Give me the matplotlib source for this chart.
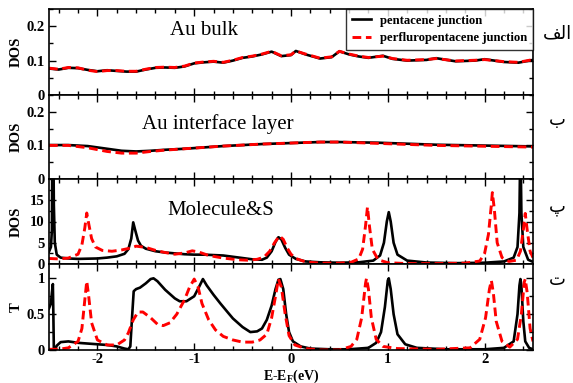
import matplotlib
matplotlib.use("Agg")
import matplotlib.pyplot as plt
from matplotlib.ticker import MultipleLocator

# ---------------- data ----------------
bulk_x = [-2.50, -2.40, -2.30, -2.20, -2.10, -2.00, -1.90, -1.80, -1.70, -1.60, -1.50, -1.40,
          -1.30, -1.20, -1.10, -1.00, -0.90, -0.80, -0.70, -0.60, -0.50, -0.40, -0.30, -0.20,
          -0.10, 0.00, 0.05, 0.15, 0.30, 0.42, 0.50, 0.60, 0.70, 0.80, 0.95, 1.05, 1.20,
          1.40, 1.50, 1.70, 1.90, 2.00, 2.20, 2.35, 2.50]
bulk_black = [0.077, 0.074, 0.079, 0.078, 0.073, 0.069, 0.072, 0.070, 0.068, 0.068, 0.074, 0.079,
              0.080, 0.079, 0.083, 0.092, 0.095, 0.097, 0.094, 0.100, 0.108, 0.112, 0.118, 0.126,
              0.113, 0.116, 0.128, 0.118, 0.106, 0.110, 0.127, 0.118, 0.112, 0.108, 0.114, 0.105, 0.100,
              0.102, 0.107, 0.098, 0.100, 0.104, 0.096, 0.094, 0.102]
bulk_red = [0.078, 0.075, 0.080, 0.079, 0.072, 0.068, 0.071, 0.071, 0.069, 0.069, 0.075, 0.080,
            0.081, 0.080, 0.084, 0.093, 0.096, 0.098, 0.095, 0.101, 0.109, 0.113, 0.119, 0.127,
            0.114, 0.117, 0.128, 0.119, 0.107, 0.111, 0.127, 0.119, 0.113, 0.109, 0.113, 0.106, 0.101,
            0.103, 0.106, 0.099, 0.101, 0.103, 0.097, 0.095, 0.103]

inter_x = [-2.50, -2.30, -2.10, -1.90, -1.75, -1.60, -1.45, -1.30, -1.10, -0.90, -0.70, -0.50,
           -0.30, -0.10, 0.10, 0.30, 0.50, 0.70, 0.90, 1.10, 1.30, 1.50, 1.70, 1.90, 2.10, 2.30, 2.50]
inter_black = [0.101, 0.101, 0.098, 0.090, 0.084, 0.082, 0.084, 0.087, 0.090, 0.094, 0.098, 0.101,
               0.104, 0.106, 0.108, 0.110, 0.110, 0.109, 0.108, 0.106, 0.104, 0.102, 0.101, 0.100,
               0.099, 0.098, 0.097]
inter_red = [0.100, 0.100, 0.093, 0.082, 0.077, 0.077, 0.082, 0.086, 0.090, 0.094, 0.098, 0.101,
             0.104, 0.106, 0.108, 0.110, 0.110, 0.108, 0.106, 0.104, 0.102, 0.100, 0.099, 0.098,
             0.097, 0.096, 0.095]

mol_bx = [-2.50, -2.48, -2.47, -2.465, -2.455, -2.45, -2.44, -2.42, -2.38, -2.30, -2.20, -2.00,
          -1.90, -1.80, -1.72, -1.68, -1.65, -1.63, -1.61, -1.58, -1.55, -1.50, -1.40, -1.30,
          -1.20, -1.10, -1.00, -0.90, -0.80, -0.70, -0.60, -0.50, -0.40, -0.30, -0.25, -0.20,
          -0.16, -0.13, -0.10, -0.06, -0.02, 0.05, 0.15, 0.30, 0.50, 0.70, 0.85, 0.92, 0.96,
          0.99, 1.01, 1.03, 1.06, 1.10, 1.20, 1.40, 1.70, 2.00, 2.20, 2.30, 2.34, 2.36, 2.37,
          2.38, 2.40, 2.45, 2.50]
mol_by = [2.9, 4.0, 8.0, 30.0, 30.0, 14.0, 5.0, 2.2, 1.5, 1.3, 1.2, 1.3,
          1.5, 1.8, 2.4, 3.5, 6.0, 9.8, 8.0, 5.5, 4.3, 3.6, 3.0, 2.7,
          2.5, 2.3, 2.2, 2.2, 2.1, 2.0, 1.7, 1.4, 1.1, 1.0, 1.5, 3.0,
          5.2, 6.3, 5.8, 3.8, 2.2, 1.2, 0.6, 0.4, 0.3, 0.4, 0.8, 2.0, 5.0,
          10.0, 12.2, 10.0, 5.0, 2.2, 0.8, 0.35, 0.2, 0.3, 0.6, 1.5, 4.0, 12.0, 30.0,
          12.0, 4.0, 1.0, 0.5]
mol_rx = [-2.50, -2.40, -2.30, -2.20, -2.16, -2.13, -2.11, -2.09, -2.06, -2.02, -1.95, -1.85,
          -1.75, -1.65, -1.60, -1.50, -1.40, -1.30, -1.20, -1.10, -1.02, -0.95, -0.85, -0.70,
          -0.55, -0.45, -0.35, -0.28, -0.22, -0.17, -0.12, -0.08, -0.04, 0.00, 0.05, 0.15,
          0.30, 0.50, 0.62, 0.70, 0.74, 0.77, 0.79, 0.81, 0.84, 0.90, 1.00, 1.20, 1.50, 1.80,
          1.95, 2.00, 2.04, 2.07, 2.08, 2.10, 2.13, 2.18, 2.25, 2.33, 2.37, 2.40, 2.42, 2.44,
          2.47, 2.50]
mol_ry = [1.3, 1.2, 1.4, 2.3, 4.5, 8.5, 12.0, 9.5, 6.0, 4.0, 3.2, 3.0,
          3.3, 3.8, 4.2, 3.9, 3.2, 2.7, 2.3, 2.6, 3.1, 2.8, 2.0, 1.4,
          1.0, 0.9, 1.1, 1.6, 3.0, 5.0, 6.6, 5.8, 3.8, 2.3, 1.3, 0.5,
          0.2, 0.2, 0.4, 1.2, 3.5, 9.0, 13.4, 9.0, 3.5, 1.0, 0.3, 0.1, 0.1, 0.2,
          0.7, 2.5, 7.0, 14.0, 16.8, 13.0, 5.0, 1.5, 0.6, 0.9, 3.0, 8.0, 11.9, 8.0,
          3.0, 1.5]

t_bx = [-2.50, -2.48, -2.47, -2.46, -2.455, -2.45, -2.44, -2.42, -2.38, -2.30, -2.20, -2.10,
        -2.00, -1.90, -1.80, -1.72, -1.68, -1.66, -1.64, -1.625, -1.60, -1.56, -1.50, -1.45,
        -1.42, -1.38, -1.30, -1.20, -1.15, -1.08, -1.00, -0.95, -0.91, -0.87, -0.80, -0.73,
        -0.65, -0.60, -0.50, -0.42, -0.35, -0.30, -0.25, -0.20, -0.16, -0.13, -0.11, -0.08,
        -0.05, -0.02, 0.02, 0.10, 0.20, 0.40, 0.60, 0.80, 0.88, 0.93, 0.97, 1.00, 1.01, 1.03,
        1.06, 1.10, 1.18, 1.30, 1.60, 2.00, 2.20, 2.30, 2.34, 2.36, 2.37, 2.38, 2.40, 2.42,
        2.46, 2.50]
t_by = [0.58, 0.65, 0.80, 0.92, 0.50, 0.02, 0.00, 0.06, 0.11, 0.12, 0.10, 0.09,
        0.08, 0.07, 0.05, 0.02, 0.01, 0.05, 0.50, 0.82, 0.85, 0.87, 0.93, 0.99,
        1.00, 0.96, 0.84, 0.72, 0.68, 0.68, 0.75, 0.88, 0.99, 0.90, 0.77, 0.65,
        0.52, 0.44, 0.32, 0.25, 0.26, 0.30, 0.42, 0.62, 0.85, 0.98, 0.99, 0.85,
        0.50, 0.25, 0.12, 0.05, 0.02, 0.01, 0.01, 0.03, 0.10, 0.25, 0.60, 0.97, 1.00, 0.85,
        0.50, 0.22, 0.08, 0.03, 0.01, 0.01, 0.03, 0.12, 0.50, 0.90, 0.99, 0.90, 0.40, 0.12,
        0.03, 0.01]
t_rx = [-2.50, -2.40, -2.30, -2.20, -2.16, -2.13, -2.11, -2.09, -2.06, -2.00, -1.90, -1.80,
        -1.72, -1.68, -1.63, -1.58, -1.53, -1.45, -1.38, -1.32, -1.25, -1.18, -1.10, -1.05,
        -1.00, -0.96, -0.92, -0.85, -0.78, -0.70, -0.60, -0.50, -0.40, -0.32, -0.25, -0.20,
        -0.16, -0.13, -0.10, -0.06, -0.02, 0.04, 0.15, 0.30, 0.50, 0.62, 0.68, 0.73, 0.77,
        0.78, 0.80, 0.83, 0.88, 0.95, 1.10, 1.50, 1.85, 1.95, 2.01, 2.05, 2.07, 2.09, 2.12,
        2.18, 2.26, 2.34, 2.38, 2.41, 2.42, 2.44, 2.47, 2.50]
t_ry = [0.01, 0.01, 0.03, 0.12, 0.30, 0.70, 0.96, 0.75, 0.38, 0.14, 0.07, 0.07,
        0.14, 0.24, 0.42, 0.53, 0.53, 0.45, 0.36, 0.34, 0.38, 0.50, 0.70, 0.87,
        0.99, 0.88, 0.65, 0.42, 0.28, 0.19, 0.14, 0.11, 0.11, 0.14, 0.22, 0.45,
        0.75, 0.99, 0.88, 0.50, 0.20, 0.07, 0.02, 0.00, 0.00, 0.05, 0.15, 0.45, 0.93,
        1.00, 0.85, 0.45, 0.15, 0.05, 0.02, 0.01, 0.03, 0.15, 0.45, 0.85, 0.97, 0.80, 0.40,
        0.12, 0.04, 0.15, 0.50, 0.95, 0.99, 0.80, 0.30, 0.12]

series_labels = ["pentacene junction", "perfluropentacene junction"]
panel_titles = ["Au bulk", "Au interface layer", "Molecule&S", ""]
panel_ylabels = ["DOS", "DOS", "DOS", "T"]
# Persian panel tags (presentation forms, laid out left-to-right as displayed)
panel_tags = ["\uFED2\uFEDF\uFE8D", "\uFE8F", "\uFB56", "\uFE95"]
x_ticks = [-2, -1, 0, 1, 2]
x_ticklabels = ["-2", "-1", "0", "1", "2"]

# ---------------- plotting ----------------
plt.rcParams['font.family'] = ['Liberation Serif', 'DejaVu Serif']
plt.rcParams['font.weight'] = 'bold'

fig = plt.figure(figsize=(5.73, 3.83), dpi=100)
L, R = 49 / 573, 533 / 573
edges = [9, 95, 179, 264, 350]
axes = []
for i in range(4):
    top = 1 - edges[i] / 383
    bot = 1 - edges[i + 1] / 383
    axes.append(fig.add_axes([L, bot, R - L, top - bot]))

blk = dict(color='black', lw=1.9)
red = dict(color='red', lw=2.1, ls=(0, (3, 1.6)))

datasets = [
    (bulk_x, bulk_black, bulk_x, bulk_red),
    (inter_x, inter_black, inter_x, inter_red),
    (mol_bx, mol_by, mol_rx, mol_ry),
    (t_bx, t_by, t_rx, t_ry),
]
ylims = [(0, 0.25), (0, 0.25), (0, 20), (0, 1.2)]
ymin = [0.05, 0.05, 2.5, 0.25]
yticks_show = [[0, 0.1, 0.2], [0, 0.1, 0.2], [0, 5, 10, 15], [0, 0.5, 1]]
yticklabels = [["0", "0.1", "0.2"], ["0", "0.1", "0.2"], ["0", "5", "10", "15"], ["0", "0.5", "1"]]
tag_y = [33, 120, 207, 280]

for i, ax in enumerate(axes):
    bx, by, rx, ry = datasets[i]
    l1, = ax.plot(bx, by, **blk)
    l2, = ax.plot(rx, ry, **red)
    ax.set_xlim(-2.5, 2.5)
    ax.set_ylim(*ylims[i])
    ax.set_xticks(x_ticks)
    ax.xaxis.set_minor_locator(MultipleLocator(0.2))
    ax.set_yticks(yticks_show[i])
    ax.set_yticklabels(yticklabels[i])
    ax.yaxis.set_minor_locator(MultipleLocator(ymin[i]))
    ax.tick_params(which='both', direction='in', top=True, right=True, labelsize=10.5, width=1)
    ax.tick_params(which='major', length=5, pad=3)
    ax.tick_params(which='minor', length=3)
    for s in ax.spines.values():
        s.set_linewidth(1.2)
    if i < 3:
        ax.set_xticklabels([])
    else:
        ax.set_xticklabels(x_ticklabels)
        ax.tick_params(axis='x', pad=2)
    ax.set_ylabel(panel_ylabels[i], fontsize=10.5, fontweight='bold')
    ax.yaxis.set_label_coords(-0.054, 0.5)
    fig.text(0.973, 1 - tag_y[i] / 383, panel_tags[i], family='DejaVu Sans',
             fontsize=13, fontweight='normal', ha='center', va='center')
    if i == 0:
        leg = ax.legend([l1, l2], series_labels, loc='upper right', fontsize=9.2,
                        frameon=True, fancybox=False, edgecolor='black',
                        borderpad=0.45, labelspacing=0.45, handlelength=1.5,
                        handletextpad=0.7, borderaxespad=0.0)
        leg.get_frame().set_linewidth(1.0)

axes[0].text(-1.25, 0.188, panel_titles[0], fontsize=15, fontweight='normal', va='center')
axes[1].text(-1.54, 0.165, panel_titles[1], fontsize=15, fontweight='normal', va='center')
axes[2].text(-1.28, 12.5, panel_titles[2], fontsize=15, fontweight='normal', va='center')

axes[3].set_xlabel("E-E$_\\mathregular{F}$(eV)", fontsize=10, fontweight='bold', labelpad=1)

fig.savefig("out.png", dpi=100)
